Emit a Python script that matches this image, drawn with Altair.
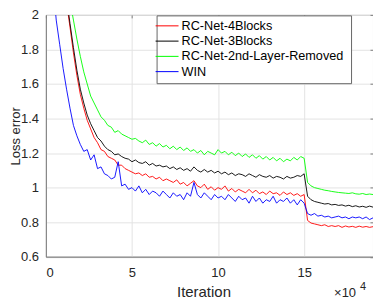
import altair as alt
import pandas as pd

# Iteration axis values (in units of 10^4), sampled every 0.2
iteration = [round(i * 0.2, 1) for i in range(96)]

series_names = ["RC-Net-4Blocks", "RC-Net-3Blocks", "RC-Net-2nd-Layer-Removed", "WIN"]
series_colors = ["#ff0000", "#000000", "#00ff00", "#0000ff"]

red = [3.5, 3.1, 2.8, 2.55, 2.35, 2.2, 2.07, 1.93, 1.78, 1.65,
       1.54, 1.46, 1.39, 1.34, 1.29, 1.26, 1.22, 1.21, 1.18, 1.17,
       1.16, 1.13, 1.13, 1.11, 1.10, 1.09, 1.08, 1.085, 1.07, 1.08,
       1.06, 1.065, 1.05, 1.06, 1.04, 1.05, 1.04, 1.03, 1.045, 1.02,
       1.03, 1.01, 1.025, 1.04, 1.01, 1.0, 1.02, 0.99, 1.005, 0.985,
       1.0, 0.99, 1.01, 0.98, 0.995, 0.975, 0.99, 0.98, 0.97, 0.99,
       0.97, 0.985, 0.965, 0.975, 0.96, 0.98, 0.965, 0.97, 0.955, 0.975,
       0.96, 0.97, 0.955, 0.965, 0.95, 0.96, 0.81, 0.795, 0.79, 0.785,
       0.78, 0.785, 0.775, 0.78, 0.775, 0.78, 0.77, 0.778, 0.772, 0.776,
       0.77, 0.777, 0.771, 0.775, 0.77, 0.774]

black = [3.6, 3.2, 2.85, 2.6, 2.4, 2.24, 2.1, 1.95, 1.81, 1.68,
         1.57, 1.49, 1.42, 1.37, 1.33, 1.29, 1.27, 1.24, 1.22, 1.21,
         1.19, 1.195, 1.18, 1.17, 1.165, 1.15, 1.16, 1.145, 1.14, 1.15,
         1.13, 1.14, 1.125, 1.13, 1.12, 1.125, 1.11, 1.12, 1.105, 1.115,
         1.10, 1.11, 1.095, 1.12, 1.10, 1.09, 1.105, 1.09, 1.10, 1.085,
         1.095, 1.08, 1.09, 1.075, 1.085, 1.07, 1.08, 1.075, 1.065, 1.08,
         1.07, 1.06, 1.075, 1.065, 1.06, 1.07, 1.055, 1.065, 1.06, 1.05,
         1.065, 1.055, 1.06, 1.07, 1.065, 1.08, 0.95, 0.93, 0.92, 0.915,
         0.91, 0.905, 0.908, 0.90, 0.903, 0.897, 0.90, 0.893, 0.898, 0.89,
         0.895, 0.888, 0.892, 0.886, 0.893, 0.887]

green = [4.0, 3.55, 3.15, 2.8, 2.55, 2.38, 2.22, 2.08, 1.97, 1.86,
         1.76, 1.67, 1.60, 1.53, 1.49, 1.45, 1.41, 1.39, 1.36, 1.35,
         1.32, 1.33, 1.31, 1.30, 1.29, 1.28, 1.285, 1.27, 1.26, 1.275,
         1.25, 1.26, 1.24, 1.255, 1.235, 1.245, 1.225, 1.24, 1.22, 1.235,
         1.215, 1.23, 1.21, 1.22, 1.20, 1.215, 1.19, 1.21, 1.20, 1.19,
         1.22, 1.20, 1.21, 1.19, 1.205, 1.185, 1.20, 1.18, 1.195, 1.175,
         1.19, 1.17, 1.185, 1.165, 1.18, 1.16, 1.175, 1.155, 1.17, 1.15,
         1.165, 1.155, 1.175, 1.16, 1.18, 1.17, 1.03, 1.01, 1.0, 0.995,
         0.99, 0.985, 0.982, 0.978, 0.975, 0.972, 0.97, 0.968, 0.966, 0.97,
         0.964, 0.962, 0.966, 0.96, 0.963, 0.96]

blue = [3.0, 2.55, 2.2, 1.97, 1.83, 1.69, 1.57, 1.46, 1.36, 1.30,
        1.25, 1.21, 1.22, 1.16, 1.19, 1.11, 1.12, 1.08, 1.07, 1.05,
        1.06, 1.15, 1.01, 1.02, 0.99, 1.00, 0.98, 1.01, 0.97, 0.99,
        0.96, 0.98, 0.97, 0.95, 0.98, 0.96, 0.94, 0.97, 0.95, 0.96,
        0.93, 0.97, 0.95, 1.03, 0.96, 0.94, 0.97, 0.95, 0.93, 0.96,
        0.94, 0.95, 0.93, 0.96, 0.94, 0.92, 0.95, 0.93, 0.94, 0.91,
        0.95, 0.92, 0.94, 0.91, 0.93, 0.92, 0.95, 0.91, 0.93, 0.92,
        0.94, 0.91, 0.93, 0.90, 0.93, 0.91, 0.85, 0.84, 0.85, 0.835,
        0.84, 0.83, 0.835, 0.825, 0.83, 0.835, 0.825, 0.83, 0.82, 0.83,
        0.825, 0.83, 0.82, 0.83, 0.815, 0.825]

x_ticks = [0, 5, 10, 15]
y_ticks = [0.6, 0.8, 1.0, 1.2, 1.4, 1.6, 1.8, 2.0]

rows = []
for name, vals in zip(series_names, [red, black, green, blue]):
    for xv, yv in zip(iteration, vals):
        rows.append({"Iteration": xv, "Loss": yv, "Series": name})
df = pd.DataFrame(rows)

FONT = "Liberation Sans"
AX = "#262626"
W, H = 328, 242.5

x_scale = alt.Scale(domain=[0, 19], nice=False, zero=False)
y_scale = alt.Scale(domain=[0.6, 2.0], nice=False, zero=False)

lines = alt.Chart(df).mark_line(clip=True, strokeWidth=0.9).encode(
    x=alt.X("Iteration:Q", scale=x_scale,
            axis=alt.Axis(values=x_ticks, format="~g", title="Iteration",
                          tickSize=0, labelPadding=10,
                          titleX=158, titleY=39.5, titleBaseline="alphabetic",
                          titleAlign="center",
                          domainColor="#808080", gridColor="#e3e3e3")),
    y=alt.Y("Loss:Q", scale=y_scale,
            axis=alt.Axis(values=y_ticks, format="~g", title="Loss error",
                          tickSize=0, labelPadding=7.4,
                          titleX=-26.2, titleY=H / 2, titleAngle=270,
                          titleBaseline="alphabetic", titleAlign="center",
                          titleFontSize=13,
                          domainColor="#808080", gridColor="#e3e3e3")),
    color=alt.Color("Series:N",
                    scale=alt.Scale(domain=series_names, range=series_colors),
                    legend=alt.Legend(orient="none", legendX=111, legendY=0.5,
                                      title="\u00a0\u00a0\u00a0\u00a0\u00a0\u00a0",
                                      titleOrient="right", titlePadding=4,
                                      titleFontSize=12,
                                      symbolType="M-2,0H2", symbolSize=132.25,
                                      symbolStrokeWidth=1,
                                      labelFont=FONT, labelFontSize=12.7,
                                      labelColor="#000000", labelOffset=8,
                                      labelLimit=400,
                                      strokeColor="#666666", fillColor="#ffffff",
                                      padding=4, rowPadding=1.3)),
    order=alt.Order("Iteration:Q"),
)

# inward ticks on the top and right edges of the box
ticks_tr = alt.Chart(df).mark_point(opacity=0).encode(
    x=alt.X("Iteration:Q", scale=x_scale,
            axis=alt.Axis(orient="top", values=x_ticks, labels=False, grid=False,
                          domain=False, title=None, tickSize=3, offset=-3,
                          tickColor="#808080")),
    y=alt.Y("Loss:Q", scale=y_scale,
            axis=alt.Axis(orient="right", values=y_ticks, labels=False, grid=False,
                          domain=False, title=None, tickSize=3, offset=-3,
                          tickColor="#808080")),
)

exp_main = alt.Chart(pd.DataFrame({"t": ["\u00d710"]})).mark_text(
    font=FONT, fontSize=13, color=AX, align="left", baseline="alphabetic"
).encode(x=alt.value(289), y=alt.value(282.5), text="t:N")

exp_sup = alt.Chart(pd.DataFrame({"t": ["4"]})).mark_text(
    font=FONT, fontSize=11, color=AX, align="left", baseline="alphabetic"
).encode(x=alt.value(315), y=alt.value(275.5), text="t:N")

chart = alt.layer(lines, ticks_tr, exp_main, exp_sup).resolve_axis(
    x="independent", y="independent"
).properties(
    width=W, height=H,
    autosize=alt.AutoSizeParams(type="none"),
    padding={"left": 38, "top": 6.5, "right": 0, "bottom": 45},
).configure_axis(
    labelFont=FONT, labelFontSize=13, labelColor=AX,
    titleFont=FONT, titleFontSize=15, titleFontWeight="normal", titleColor=AX,
).configure_view(stroke="#808080", strokeWidth=1)

chart.save("out.html", embed_options={"renderer": "svg", "actions": False})
